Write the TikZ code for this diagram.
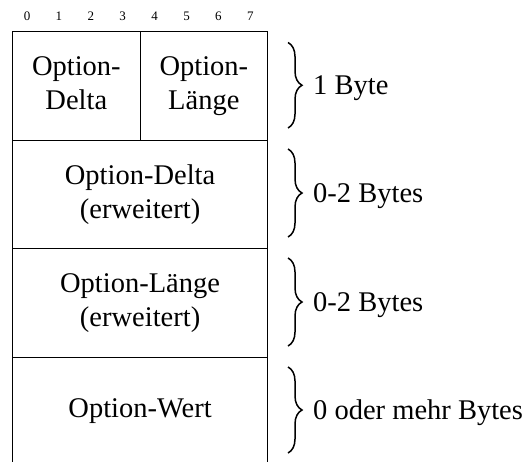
\documentclass[tikz,border=0pt]{standalone}
\usepackage{fontspec}
\setmainfont{Liberation Serif}
\usetikzlibrary{decorations.pathreplacing}
\tikzset{
  field/.style={draw, line width=1.2pt, inner sep=0pt, anchor=north west,
    align=center, minimum height=108.5pt,
    font=\fontsize{28.5}{34}\selectfont},
  bitno/.style={inner sep=0pt, font=\fontsize{13}{15}\selectfont},
  sizebrace/.style={decorate, line width=1.5pt,
    decoration={brace, amplitude=14pt}},
  sizelabel/.style={inner sep=0pt, anchor=base west,
    font=\fontsize{28.5}{34}\selectfont}
}
\begin{document}
\begin{tikzpicture}[x=1pt, y=-1pt]
  \useasboundingbox (0,0) rectangle (529,461);
  % bit numbers of the first byte
  \foreach \b in {0,...,7}
    \node[bitno] (bit\b) at ({27+31.9*\b},16) {\b};
  % option header fields
  \node[field, minimum width=127.5pt] (delta) at (12,31) {Option-\\Delta\vphantom{Äg}};
  \node[field, minimum width=127.5pt] (len) at (139.5,31) {Option-\\Länge\vphantom{Äg}};
  \node[field, minimum width=255pt] (deltaext) at (12,139.5) {Option-Delta\\(erweitert)};
  \node[field, minimum width=255pt] (lenext) at (12,248) {Option-Länge\\(erweitert)};
  \node[field, minimum width=255pt] (value) at (12,356.5) {Option-Wert};
  % size braces and labels
  \coordinate (b1t) at (288,42.5);  \coordinate (b1b) at (288,128);
  \coordinate (b2t) at (288,149);   \coordinate (b2b) at (288,237);
  \coordinate (b3t) at (288,258);   \coordinate (b3b) at (288,346);
  \coordinate (b4t) at (288,367);   \coordinate (b4b) at (288,453);
  \draw[sizebrace] (b1t) -- (b1b);
  \draw[sizebrace] (b2t) -- (b2b);
  \draw[sizebrace] (b3t) -- (b3b);
  \draw[sizebrace] (b4t) -- (b4b);
  \node[sizelabel] (s1) at (313,94.5) {1 Byte};
  \node[sizelabel] (s2) at (313,202.5) {0-2 Bytes};
  \node[sizelabel] (s3) at (313,311) {0-2 Bytes};
  \node[sizelabel] (s4) at (313,419.5) {0 oder mehr Bytes};
\end{tikzpicture}
\end{document}
